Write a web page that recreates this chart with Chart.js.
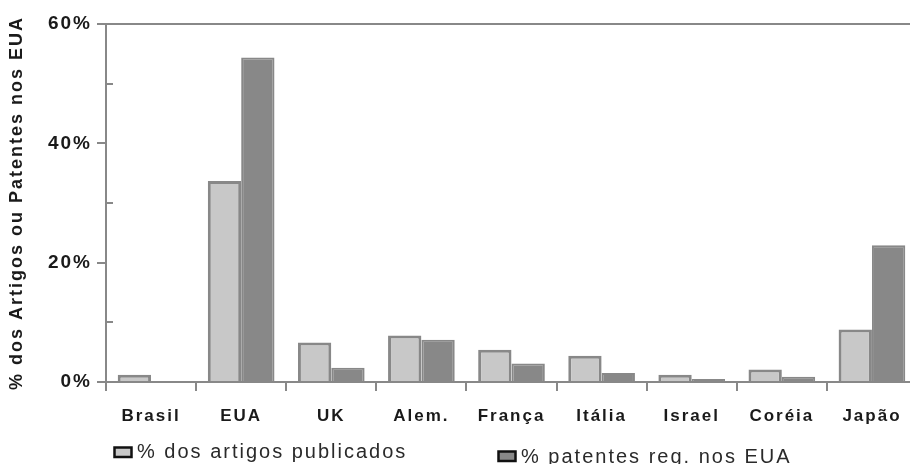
<!DOCTYPE html>
<html>
<head>
<meta charset="utf-8">
<script src="https://cdn.jsdelivr.net/npm/chart.js@4.4.1/dist/chart.umd.min.js"></script>
<style>
  html, body { margin: 0; padding: 0; overflow: hidden; background: #fff; }
  #wrap { width: 918px; height: 464px; position: relative; }
</style>
</head>
<body>
<div id="wrap"><canvas id="c"></canvas></div>
<script>
// Share of scientific articles and of US-registered patents, by country (%)
const categories = ['Brasil', 'EUA', 'UK', 'Alem.', 'França', 'Itália', 'Israel', 'Coréia', 'Japão'];
const artigos = [1.2, 33.7, 6.6, 7.8, 5.4, 4.4, 1.2, 2.1, 8.8];
const patentes = [0, 54.4, 2.4, 7.1, 3.1, 1.5, 0.5, 0.9, 22.9];
const yTickValues = [0, 20, 40, 60];
const minorTickValues = [10, 30, 50];
const seriesLabels = ['% dos artigos publicados', '% patentes reg. nos EUA'];
const axisTitle = '% dos Artigos ou Patentes nos EUA';

const GRAY = '#888888';
const LIGHT = '#c8c8c8';
const INK = '#1a1a1a';
const FONT = '"Liberation Sans", Arial, sans-serif';
const CLEAR = 'rgba(0,0,0,0)';

// wide letter spacing for all canvas text
const spacing = {
  id: 'spacing',
  beforeLayout(c) { c.ctx.letterSpacing = '2px'; },
  beforeDraw(c) { c.ctx.letterSpacing = '2px'; }
};

// short inward ticks between the labelled values
const minorTicks = {
  id: 'minorTicks',
  afterDraw(c) {
    const y = c.scales.y, ctx = c.ctx;
    ctx.save();
    ctx.strokeStyle = GRAY;
    ctx.lineWidth = 2;
    minorTickValues.forEach(v => {
      const py = Math.round(y.getPixelForValue(v));
      ctx.beginPath();
      ctx.moveTo(y.right, py);
      ctx.lineTo(y.right + 7, py);
      ctx.stroke();
    });
    ctx.restore();
  }
};

// legend entries placed under the axis
const legendSpots = [{ x: 113, top: 446, base: 458 }, { x: 497, top: 450, base: 463 }];
const boxLegend = {
  id: 'boxLegend',
  afterDraw(c) {
    const ctx = c.ctx;
    ctx.save();
    ctx.letterSpacing = '2px';
    ctx.font = '20px ' + FONT;
    ctx.textBaseline = 'alphabetic';
    ctx.textAlign = 'left';
    c.data.datasets.forEach((ds, i) => {
      const p = legendSpots[i];
      ctx.fillStyle = ds.backgroundColor;
      ctx.strokeStyle = '#111';
      ctx.lineWidth = 2.5;
      ctx.fillRect(p.x + 1.5, p.top + 1.5, 17, 9.5);
      ctx.strokeRect(p.x + 1.5, p.top + 1.5, 17, 9.5);
      ctx.fillStyle = '#2a2a2a';
      ctx.fillText(ds.label, p.x + 24, p.base);
    });
    ctx.restore();
  }
};

new Chart(document.getElementById('c'), {
  type: 'bar',
  data: {
    labels: categories,
    datasets: [
      { label: seriesLabels[0], data: artigos, backgroundColor: LIGHT, borderColor: GRAY, borderWidth: 3 },
      { label: seriesLabels[1], data: patentes, backgroundColor: GRAY, borderColor: GRAY, borderWidth: 2 }
    ]
  },
  options: {
    responsive: true,
    maintainAspectRatio: false,
    animation: false,
    categoryPercentage: 0.74,
    barPercentage: 1.0,
    layout: { padding: { top: 24, right: 1, bottom: 0, left: 0 } },
    plugins: {
      legend: { display: false },
      tooltip: { enabled: false }
    },
    scales: {
      x: {
        grid: { offset: true, drawOnChartArea: false, color: GRAY, lineWidth: 2, tickLength: 9 },
        border: { color: GRAY, width: 2 },
        ticks: { font: { family: FONT, size: 17, weight: 'bold' }, color: INK, padding: 15, maxRotation: 0 },
        afterFit: s => { s.height = 82; }
      },
      y: {
        min: 0,
        max: 60,
        ticks: {
          stepSize: 10,
          callback: v => yTickValues.includes(v) ? v + '%' : '',
          font: { family: FONT, size: 19, weight: 'bold' },
          color: INK,
          padding: 5
        },
        grid: {
          color: ctx => (ctx.tick && ctx.tick.value === 60) ? GRAY : CLEAR,
          tickColor: ctx => (ctx.tick && yTickValues.includes(ctx.tick.value)) ? GRAY : CLEAR,
          lineWidth: 2,
          tickLength: 9
        },
        border: { color: GRAY, width: 2 },
        title: {
          display: true,
          text: axisTitle,
          font: { family: FONT, size: 18, weight: 'bold' },
          color: INK,
          padding: { top: 6, bottom: 0 }
        },
        afterFit: s => { s.width = 106; }
      }
    }
  },
  plugins: [spacing, minorTicks, boxLegend]
});
</script>
</body>
</html>
